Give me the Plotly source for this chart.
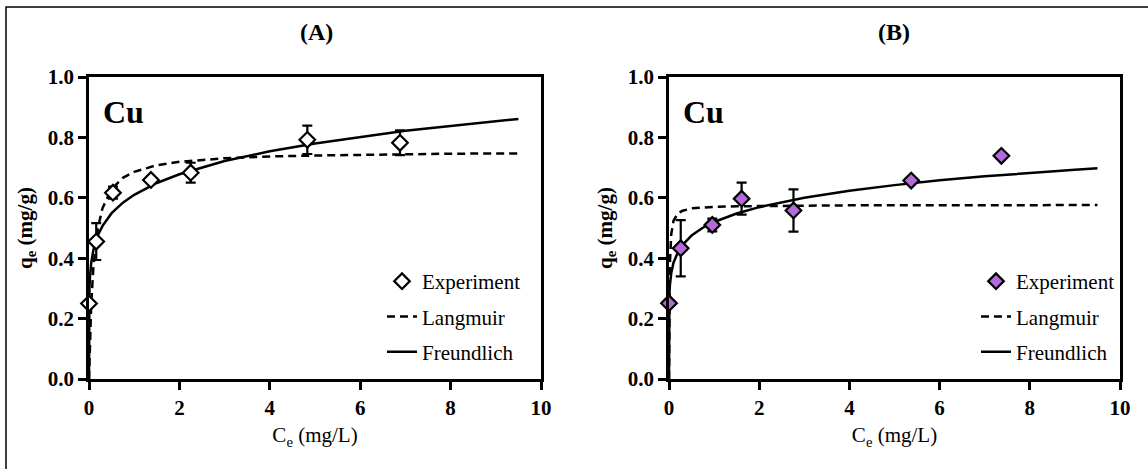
import plotly.graph_objects as go

# ---------------- data ----------------
fit_x = [0, 0.002, 0.005, 0.01, 0.02, 0.05, 0.1, 0.2, 0.3, 0.5, 0.75, 1, 1.5, 2, 3, 4, 5, 6, 7, 8, 9, 9.5]

# Panel A
exp_a_x = [0, 0.16, 0.53, 1.37, 2.25, 4.83, 6.88]
exp_a_y = [0.25, 0.455, 0.617, 0.659, 0.683, 0.792, 0.782]
exp_a_err = [0.005, 0.061, 0.02, 0.01, 0.033, 0.047, 0.041]
lang_a = [0, 0.015, 0.036, 0.069, 0.126, 0.252, 0.378, 0.503, 0.566, 0.629, 0.666, 0.686,
          0.708, 0.719, 0.731, 0.737, 0.740, 0.743, 0.744, 0.746, 0.747, 0.747]
freu_a = [0, 0.236, 0.271, 0.302, 0.335, 0.386, 0.429, 0.477, 0.507, 0.549, 0.584, 0.610,
          0.649, 0.678, 0.722, 0.754, 0.780, 0.802, 0.822, 0.838, 0.854, 0.861]

# Panel B
exp_b_x = [0, 0.26, 0.96, 1.61, 2.76, 5.37, 7.37]
exp_b_y = [0.251, 0.433, 0.51, 0.597, 0.558, 0.657, 0.739]
exp_b_err = [0, 0.093, 0.021, 0.053, 0.07, 0.005, 0]
lang_b = [0, 0.096, 0.192, 0.288, 0.384, 0.480, 0.524, 0.549, 0.557, 0.565, 0.568, 0.570,
          0.572, 0.573, 0.574, 0.575, 0.575, 0.575, 0.575, 0.576, 0.576, 0.576]
freu_b = [0, 0.230, 0.260, 0.284, 0.311, 0.351, 0.385, 0.421, 0.444, 0.475, 0.501, 0.520,
          0.548, 0.569, 0.600, 0.623, 0.642, 0.658, 0.671, 0.683, 0.693, 0.698]

panel_titles = ["(A)", "(B)"]
metal_label = "Cu"
legend_names = ["Experiment", "Langmuir", "Freundlich"]
x_ticks = [0, 2, 4, 6, 8, 10]
y_ticks = [0.0, 0.2, 0.4, 0.6, 0.8, 1.0]

# ---------------- style ----------------
W, H = 1148, 469
SERIF = "Liberation Serif, Times New Roman, Times, serif"
BLACK = "#000000"
VIOLET = "#b46ad8"

fig = go.Figure()

panels = [
    dict(xa="x", ya="y", leg="legend", ex=exp_a_x, ey=exp_a_y, ee=exp_a_err,
         lang=lang_a, freu=freu_a, fill="white"),
    dict(xa="x2", ya="y2", leg="legend2", ex=exp_b_x, ey=exp_b_y, ee=exp_b_err,
         lang=lang_b, freu=freu_b, fill=VIOLET),
]

for p in panels:
    fig.add_trace(go.Scatter(
        x=fit_x, y=p["lang"], mode="lines", name=legend_names[1],
        xaxis=p["xa"], yaxis=p["ya"], legend=p["leg"], legendgroup=p["leg"] + "L",
        legendrank=2, line=dict(color=BLACK, width=2.5, dash="8px,5px"),
    ))
    fig.add_trace(go.Scatter(
        x=fit_x, y=p["freu"], mode="lines", name=legend_names[2],
        xaxis=p["xa"], yaxis=p["ya"], legend=p["leg"], legendgroup=p["leg"] + "F",
        legendrank=3, line=dict(color=BLACK, width=2.5),
    ))
    fig.add_trace(go.Scatter(
        x=p["ex"], y=p["ey"], mode="markers", name=legend_names[0],
        xaxis=p["xa"], yaxis=p["ya"], legend=p["leg"], legendgroup=p["leg"] + "E",
        legendrank=1, cliponaxis=False,
        marker=dict(symbol="diamond", size=12, color=p["fill"],
                    line=dict(color=BLACK, width=2.2)),
        error_y=dict(type="data", array=p["ee"], visible=True,
                     color=BLACK, thickness=2.2, width=5),
    ))

axis_common = dict(
    showline=True, linecolor=BLACK, linewidth=2.5, mirror=True,
    ticks="outside", ticklen=8, tickwidth=2.5, tickcolor=BLACK,
    showgrid=False, zeroline=False, automargin=False,
    tickfont=dict(family=SERIF, size=21, color=BLACK, weight="bold"),
)

y_dom = [(H - 379) / H, (H - 77) / H]
x_doms = [[89 / W, 541 / W], [669 / W, 1120 / W]]

for i, sfx in enumerate(["", "2"]):
    fig.update_layout(**{
        "xaxis" + sfx: dict(
            axis_common, domain=x_doms[i], range=[0, 10], tickvals=x_ticks,
            anchor="y" + sfx,
            title=dict(text="C<sub>e</sub> (mg/L)", standoff=9,
                       font=dict(family=SERIF, size=21, color=BLACK)),
        ),
        "yaxis" + sfx: dict(
            axis_common, domain=y_dom, range=[0, 1], tickvals=y_ticks,
            tickformat=".1f", anchor="x" + sfx,
            title=dict(text="<b>q<sub>e</sub> (mg/g)</b>", standoff=10,
                       font=dict(family=SERIF, size=21, color=BLACK)),
        ),
    })

legend_common = dict(
    font=dict(family=SERIF, size=21, color=BLACK),
    bgcolor="rgba(0,0,0,0)", borderwidth=0,
    traceorder="grouped", tracegroupgap=5,
    xanchor="left", yanchor="top",
)

def label(text, px, py, size):
    return dict(text="<b>" + text + "</b>", x=px / W, y=(H - py) / H,
                xref="paper", yref="paper", showarrow=False,
                xanchor="center", yanchor="middle",
                font=dict(family=SERIF, size=size, color=BLACK))

fig.update_layout(
    template="none",
    width=W, height=H,
    margin=dict(l=0, r=0, t=0, b=0, pad=0),
    paper_bgcolor="white", plot_bgcolor="white",
    font=dict(family=SERIF, color=BLACK),
    showlegend=True,
    legend=dict(legend_common, x=382 / W, y=(H - 261) / H),
    legend2=dict(legend_common, x=976 / W, y=(H - 261) / H),
    annotations=[
        label(panel_titles[0], 316, 32, 24),
        label(panel_titles[1], 894, 32, 24),
        label(metal_label, 123, 112, 32),
        label(metal_label, 703, 112, 32),
    ],
    shapes=[
        dict(type="rect", xref="paper", yref="paper",
             x0=6 / W, x1=1.05, y0=-0.05, y1=(H - 7) / H,
             line=dict(color=BLACK, width=1.5), fillcolor="rgba(0,0,0,0)"),
    ],
)

fig.write_html(
    "out.html",
    config={"displayModeBar": False},
    post_script="document.body.style.margin='0';document.body.style.overflow='hidden';",
)
